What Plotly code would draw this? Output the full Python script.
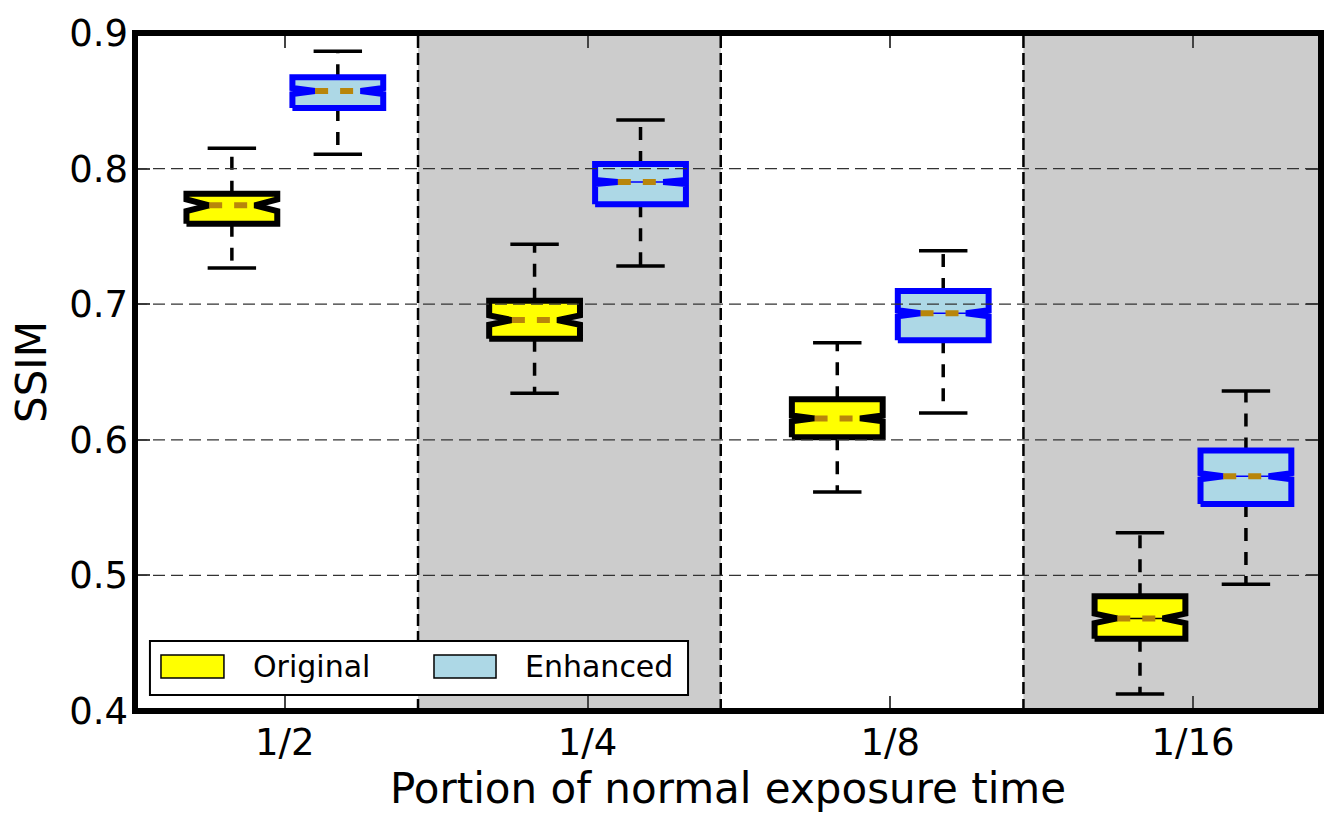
import plotly.graph_objects as go

# ---------------- data ----------------
categories = ["1/2", "1/4", "1/8", "1/16"]
series_names = ["Original", "Enhanced"]

orig_lower = [0.7267, 0.6343, 0.5615, 0.4125]
orig_q1 = [0.7594, 0.6746, 0.6018, 0.4533]
orig_median = [0.7729, 0.6883, 0.6158, 0.4683]
orig_q3 = [0.7815, 0.7026, 0.6299, 0.4846]
orig_upper = [0.8150, 0.7442, 0.6716, 0.5315]
orig_notch = [0.0043, 0.0035, 0.0022, 0.0035]

enh_lower = [0.8105, 0.7282, 0.6198, 0.4934]
enh_q1 = [0.8447, 0.7737, 0.6734, 0.5527]
enh_median = [0.8572, 0.7901, 0.6933, 0.5731]
enh_q3 = [0.8673, 0.8034, 0.7097, 0.5922]
enh_upper = [0.8865, 0.8358, 0.7395, 0.6360]
enh_notch = [0.0022, 0.0015, 0.0022, 0.0023]

y_ticks = [0.4, 0.5, 0.6, 0.7, 0.8, 0.9]
grid_values = [0.5, 0.6, 0.7, 0.8]

# ---------------- geometry / style ----------------
group_pos = [i + 1 for i in range(len(categories))]
OFFSET = 0.175
BOX_W = 0.3
CAP_HALF = 0.08
X_RANGE = [0.505, 4.423]
SEPARATORS = [1.44, 2.44, 3.44]
BANDS = [(1.44, 2.44), (3.44, X_RANGE[1])]

styles = {
    "Original": dict(fill="#FFFF00", edge="#000000"),
    "Enhanced": dict(fill="#ADD8E6", edge="#0000FF"),
}
spike_boxes = {("Enhanced", 1), ("Enhanced", 2), ("Enhanced", 3), ("Original", 3)}

fig = go.Figure()


def add_box(name, i, pos, lo, q1, med, q3, hi, notch):
    st = styles[name]
    L, R = pos - BOX_W / 2, pos + BOX_W / 2
    cL, cR = pos - BOX_W / 4, pos + BOX_W / 4
    nmin, nmax = med - notch, med + notch
    common = dict(mode="lines", showlegend=False, hoverinfo="skip")
    # whiskers (dashed)
    for a, b in ((q1, lo), (q3, hi)):
        fig.add_trace(go.Scatter(x=[pos, pos], y=[a, b],
                                 line=dict(color="black", width=3.5, dash="13px,11px"), **common))
    # caps
    for v in (lo, hi):
        fig.add_trace(go.Scatter(x=[pos - CAP_HALF, pos + CAP_HALF], y=[v, v],
                                 line=dict(color="black", width=3.5), **common))
    # notched box
    fig.add_trace(go.Scatter(
        x=[L, R, R, cR, R, R, L, L, cL, L, L],
        y=[q1, q1, nmin, med, nmax, q3, q3, nmax, med, nmin, q1],
        fill="toself", fillcolor=st["fill"],
        line=dict(color=st["edge"], width=6), **common))
    if (name, i) in spike_boxes:
        fig.add_trace(go.Scatter(x=[cL, cR], y=[med, med],
                                 line=dict(color=st["edge"], width=1.5), **common))
    # median (dashed)
    fig.add_trace(go.Scatter(x=[cL, cR], y=[med, med],
                             line=dict(color="#B8860B", width=6, dash="13px,12px"), **common))


for i, p in enumerate(group_pos):
    add_box("Original", i, p - OFFSET, orig_lower[i], orig_q1[i], orig_median[i],
            orig_q3[i], orig_upper[i], orig_notch[i])
    add_box("Enhanced", i, p + OFFSET, enh_lower[i], enh_q1[i], enh_median[i],
            enh_q3[i], enh_upper[i], enh_notch[i])

shapes = []
for a, b in BANDS:
    shapes.append(dict(type="rect", xref="x", yref="paper", x0=a, x1=b, y0=0, y1=1,
                       fillcolor="#CCCCCC", line=dict(width=0), layer="below"))
for s in SEPARATORS:
    shapes.append(dict(type="line", xref="x", yref="paper", x0=s, x1=s, y0=0, y1=1,
                       line=dict(color="black", width=2.5, dash="12px,5px"), layer="above"))
for g in grid_values:
    shapes.append(dict(type="line", xref="paper", yref="y", x0=0, x1=1, y0=g, y1=g,
                       line=dict(color="#333333", width=1.3, dash="12px,6px"), layer="above"))
# frame
shapes.append(dict(type="rect", xref="paper", yref="paper", x0=0, x1=1, y0=0, y1=1,
                   line=dict(color="black", width=6), fillcolor="rgba(0,0,0,0)", layer="above"))
# legend
shapes.append(dict(type="rect", xref="paper", yref="paper", x0=0.0126, x1=0.4663, y0=0.0236, y1=0.1032,
                   line=dict(color="black", width=2), fillcolor="white", layer="above"))
leg_x = [(0.0219, 0.0750, 0.0978), (0.2521, 0.3044, 0.3272)]
annotations = []
for name, (x0, x1, tx) in zip(series_names, leg_x):
    shapes.append(dict(type="rect", xref="paper", yref="paper", x0=x0, x1=x1, y0=0.0487, y1=0.0826,
                       line=dict(color="black", width=1.5), fillcolor=styles[name]["fill"], layer="above"))
    annotations.append(dict(xref="paper", yref="paper", x=tx, y=0.0649, text=name, showarrow=False,
                            xanchor="left", yanchor="middle", font=dict(size=30, color="black")))

fig.update_layout(
    width=1337, height=823,
    margin=dict(l=135, r=16, t=33, b=112),
    plot_bgcolor="white", paper_bgcolor="white",
    showlegend=False,
    font=dict(family="DejaVu Sans", color="black"),
    shapes=shapes, annotations=annotations,
)
fig.update_xaxes(
    range=X_RANGE, tickmode="array", tickvals=group_pos, ticktext=categories,
    ticks="inside", ticklen=15, tickwidth=1.5, tickcolor="#444444", mirror="ticks",
    showgrid=False, zeroline=False, showline=False,
    tickfont=dict(size=37, color="black"), ticklabelstandoff=6,
    title=dict(text="Portion of normal exposure time", font=dict(size=42), standoff=10),
)
fig.update_yaxes(
    range=[0.4, 0.9], tickmode="array", tickvals=y_ticks, ticktext=[f"{v:.1f}" for v in y_ticks],
    ticks="inside", ticklen=15, tickwidth=1.5, tickcolor="#444444", mirror="ticks",
    showgrid=False, zeroline=False, showline=False,
    tickfont=dict(size=37, color="black"), ticklabelstandoff=6,
    title=dict(text="SSIM", font=dict(size=42), standoff=9),
)

fig.write_html("out.html")
